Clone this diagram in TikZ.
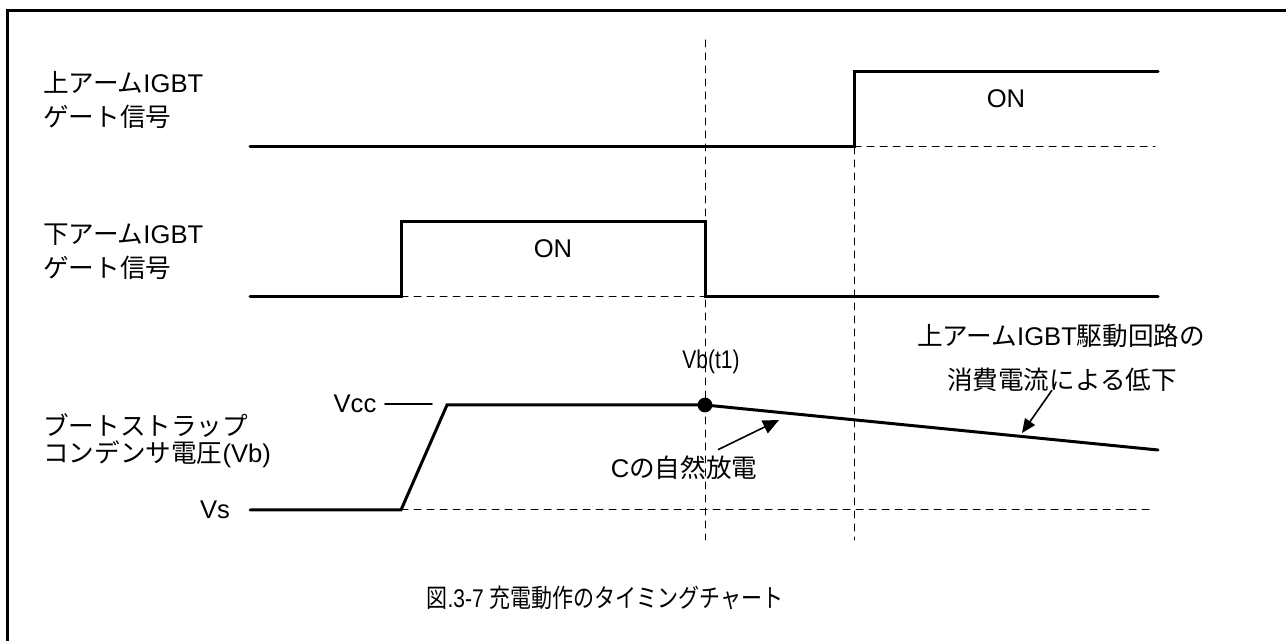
\documentclass[tikz,border=0pt]{standalone}
\usepackage{fontspec}
\setmainfont{Liberation Sans}
\newfontfamily\jp{Noto Sans CJK JP}
\usepackage{tikz}
\usetikzlibrary{calc, arrows.meta}
\usepackage{tkz-euclide}

\begin{document}
\begin{tikzpicture}[x=0.5pt, y=-0.5pt,
    wave/.style={line width=1.5pt, line join=miter},
    guide/.style={line width=0.5pt, dash pattern=on 3.5pt off 3pt},
    lbl/.style={inner sep=0pt, align=left, font=\fontsize{12.8}{17}\selectfont},
    txt/.style={inner sep=0pt, font=\fontsize{12.8}{15}\selectfont}]
        \useasboundingbox (0,0) rectangle (1286,641);
        \draw[line width=1.5pt] (7,641) -- (7,11) -- (1286,11);

        % upper arm gate
        \tkzDefPoints{250/147/UL,854/147/UR,854/72/UH,1158/72/UE,1155/147/UD}
        \tkzDrawPolySeg[wave](UL,UR,UH,UE)
        % lower arm gate
        \tkzDefPoints{250/297/LL,401/297/LR,401/222/LH,705/222/LK,705/297/LF,1158/297/LE}
        \tkzDrawPolySeg[wave](LL,LR,LH,LK,LF,LE)
        % bootstrap voltage
        \tkzDefPoints{250/510/VL,401/510/VR,447/405/VT,705/405/VK,1158/450/VE,1155/510/VD}
        \tkzDrawPolySeg[wave](VL,VR,VT,VK,VE)
        \fill (VK) circle (3.7pt);
        \tkzDefPoints{385/404/CA,432/404/CB}
        \tkzDrawSegment[line width=0.8pt](CA,CB)

        % guides
        \tkzDefPoints{705/40/Ta,705/540/Tb,854/540/Sb}
        \tkzDrawSegments[guide](UR,UD LR,LF VR,VD Ta,Tb UR,Sb)

        \node[lbl, anchor=west] (upl) at (43,100) {{\jp 上アーム}IGBT\\{\jp ゲート信号}};
        \node[lbl, anchor=west] (lowl) at (43,252) {{\jp 下アーム}IGBT\\{\jp ゲート信号}};
        \node[lbl, anchor=west, font=\fontsize{12.8}{13.5}\selectfont] (vbl) at (43,441) {{\jp ブートストラップ}\\{\jp コンデンサ電圧}(Vb)};
        \node[txt] (onu) at (1006,99) {ON};
        \node[txt] (onl) at (553,249) {ON};
        \node[txt] (vcc) at (355,404) {Vcc};
        \node[txt] (vs) at (215,510) {Vs};
        \node[txt] (vbt) at (711,362) {\scalebox{0.82}[1]{Vb(t1)}};
        \node[txt] (nat) at (684,468) {C{\jp の自然放電}};
        \node[txt] (drop1) at (1061,336) {{\jp 上アーム}IGBT{\jp 駆動回路の}};
        \node[txt] (drop2) at (1062,380) {\jp 消費電流による低下};
        \node[txt] (cap) at (605,598) {\scalebox{0.82}[1]{{\jp 図}.3-7 {\jp 充電動作のタイミングチャート}}};

        \tkzDefPoints{779/420/Na,1022/433/Da}
        \draw[line width=0.8pt, -{Triangle[length=8pt,width=7pt]}] ($(nat.north)+(34,-6)$) -- (Na);
        \draw[line width=0.8pt, -{Triangle[length=7pt,width=6pt]}] ($(drop2.south)+(-10,-2)$) -- (Da);
    \end{tikzpicture}
\end{document}
